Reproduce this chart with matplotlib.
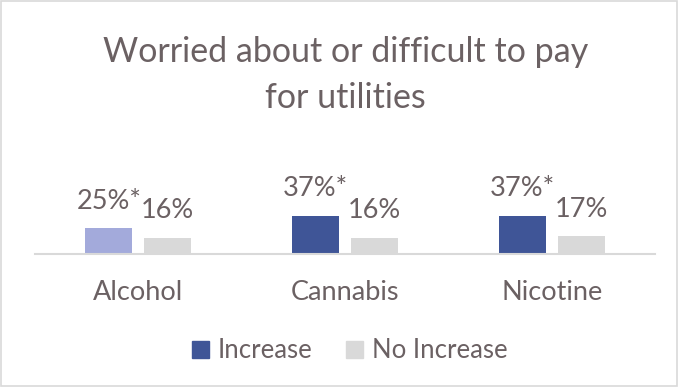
import matplotlib.pyplot as plt
import numpy as np

categories = ["Alcohol", "Cannabis", "Nicotine"]
increase = [25, 37, 37]
no_increase = [16, 16, 17]
increase_labels = ["25%*", "37%*", "37%*"]
no_increase_labels = ["16%", "16%", "17%"]
series_names = ["Increase", "No Increase"]

TEXT = "#6b6163"
BLUE = "#3f5597"
LIGHT_BLUE = "#a3aadb"
GRAY = "#d9d9d9"

plt.rcParams["font.family"] = ["Lato", "DejaVu Sans"]

fig = plt.figure(figsize=(6.78, 3.87), dpi=100)
W, H = 678, 387
ax = fig.add_axes([35 / W, 1 - 254 / H, 620 / W, 103 / H])

x = np.arange(len(categories))
width = 0.227
gap = 0.058
inc_colors = [LIGHT_BLUE, BLUE, BLUE]
ax.bar(x - (width + gap) / 2, increase, width, color=inc_colors, label=series_names[0])
ax.bar(x + (width + gap) / 2, no_increase, width, color=GRAY, label=series_names[1])

for xi, v, lab in zip(x - (width + gap) / 2, increase, increase_labels):
    ax.annotate(lab, (xi, v), xytext=(0, 14), textcoords="offset points",
                ha="center", va="baseline", fontsize=19.5, color=TEXT)
for xi, v, lab in zip(x + (width + gap) / 2, no_increase, no_increase_labels):
    ax.annotate(lab, (xi, v), xytext=(0, 14), textcoords="offset points",
                ha="center", va="baseline", fontsize=19.5, color=TEXT)

ax.set_xlim(-0.5, 2.5)
ax.set_ylim(0, 100)
ax.set_xticks(x)
ax.set_xticklabels(categories, fontsize=19.5, color=TEXT)
ax.tick_params(axis="x", length=0, pad=19)
ax.set_yticks([])
for side in ["top", "left", "right"]:
    ax.spines[side].set_visible(False)
ax.spines["bottom"].set_color(GRAY)
ax.spines["bottom"].set_linewidth(1.5)

fig.text(345.5 / W, 1 - 62 / H, "Worried about or difficult to pay",
         ha="center", va="baseline", fontsize=24.5, color=TEXT)
fig.text(345.5 / W, 1 - 108 / H, "for utilities",
         ha="center", va="baseline", fontsize=24.5, color=TEXT)

handles = [plt.Rectangle((0, 0), 1, 1, color=BLUE), plt.Rectangle((0, 0), 1, 1, color=GRAY)]
fig.legend(handles, series_names, loc="center", bbox_to_anchor=(350 / W, 1 - 351 / H),
           ncol=2, frameon=False, fontsize=18.5, labelcolor=TEXT,
           handlelength=0.65, handleheight=0.65, handletextpad=0.35, columnspacing=1.3)

fig.patches.append(plt.Rectangle((0.002, 0.003), 0.996, 0.994, transform=fig.transFigure,
                                 fill=False, edgecolor=GRAY, linewidth=1.2))

fig.savefig("out.png", dpi=100)
